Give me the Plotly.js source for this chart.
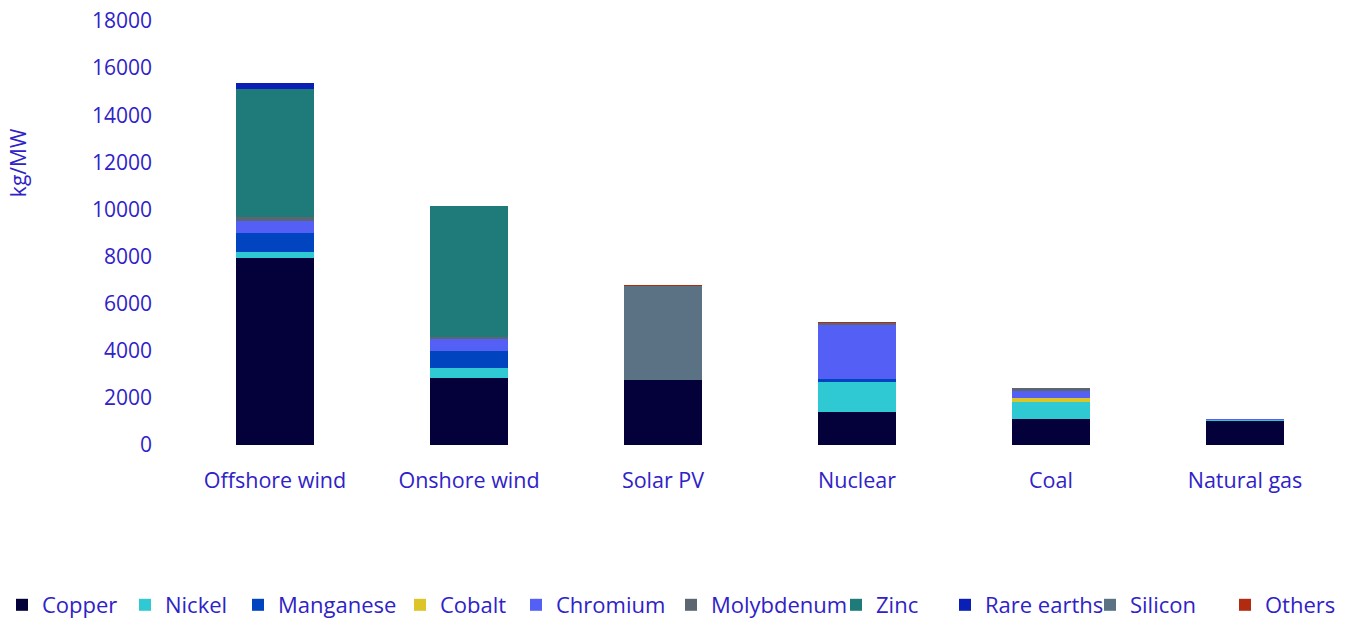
<!DOCTYPE html>
<html>
<head>
<meta charset="utf-8">
<script src="https://cdn.plot.ly/plotly-3.0.1.min.js"></script>
<style>html,body{margin:0;padding:0;background:#fff;}#chart{width:1351px;height:619px;}</style>
</head>
<body>
<div id="chart"></div>
<script>
const categories = ["Offshore wind", "Onshore wind", "Solar PV", "Nuclear", "Coal", "Natural gas"];
const copper      = [7950, 2840, 2770, 1390, 1100, 1030];
const nickel      = [240, 420, 0, 1300, 720, 16];
const manganese   = [790, 740, 0, 100, 0, 0];
const cobalt      = [0, 0, 0, 0, 180, 0];
const chromium    = [525, 480, 0, 2300, 310, 50];
const molybdenum  = [170, 100, 0, 70, 110, 0];
const zinc        = [5450, 5550, 0, 0, 0, 0];
const rareEarths  = [230, 14, 0, 0, 0, 0];
const silicon     = [0, 0, 4000, 0, 0, 0];
const others      = [30, 0, 30, 60, 0, 0];

const seriesNames = ["Copper", "Nickel", "Manganese", "Cobalt", "Chromium", "Molybdenum", "Zinc", "Rare earths", "Silicon", "Others"];
const seriesValues = [copper, nickel, manganese, cobalt, chromium, molybdenum, zinc, rareEarths, silicon, others];
const seriesColors = ["#03003a", "#2ec9d2", "#0044c0", "#dcc528", "#5460f5", "#5c6670", "#1f7a7a", "#0a1fb5", "#5a7284", "#b02b10"];

const textColor = "#2f22c8";
const font = "'Open Sans', sans-serif";
const W = 1351, H = 619;

// legend text start positions (px) in the layout
const legendTextX = [44, 167, 280, 442, 558, 713, 878, 987, 1132, 1267];

const legendKey = i => i === 0 ? "legend" : "legend" + (i + 1);

const traces = seriesNames.map((n, i) => ({
  type: "bar",
  name: n,
  x: categories,
  y: seriesValues[i],
  legend: legendKey(i),
  marker: {color: seriesColors[i], line: {width: 0}},
  hoverinfo: "x+y+name"
}));

const layout = {
  width: W, height: H,
  barmode: "stack",
  bargap: 0.6,
  margin: {l: 178, r: 9, t: 21, b: 174, autoexpand: false},
  paper_bgcolor: "#ffffff",
  plot_bgcolor: "#ffffff",
  font: {family: font, size: 20, color: textColor},
  xaxis: {
    showgrid: false, showline: false, zeroline: false,
    ticks: "", ticklabelstandoff: 20,
    tickfont: {family: font, size: 21.5, color: textColor}
  },
  yaxis: {
    range: [0, 18000], dtick: 2000, tick0: 0,
    showgrid: false, showline: false, zeroline: false,
    ticks: "", ticklabelstandoff: 25,
    tickformat: "d",
    tickfont: {family: font, size: 21, color: textColor}
  },
  annotations: [{
    text: "kg/MW", xref: "paper", yref: "paper",
    x: -0.1375, y: 0.667, xanchor: "center", yanchor: "middle",
    textangle: -90, showarrow: false,
    font: {family: font, size: 21, color: textColor}
  }],
  showlegend: true
};

seriesNames.forEach((n, i) => {
  layout[legendKey(i)] = {
    orientation: "h",
    xref: "container", yref: "container",
    x: (legendTextX[i] - 42) / W, xanchor: "left",
    y: 1 - 605 / H, yanchor: "middle",
    bgcolor: "rgba(0,0,0,0)",
    font: {family: font, size: 22, color: textColor},
    itemwidth: 30
  };
});

Plotly.newPlot("chart", traces, layout, {displayModeBar: false, staticPlot: true});
</script>
</body>
</html>
